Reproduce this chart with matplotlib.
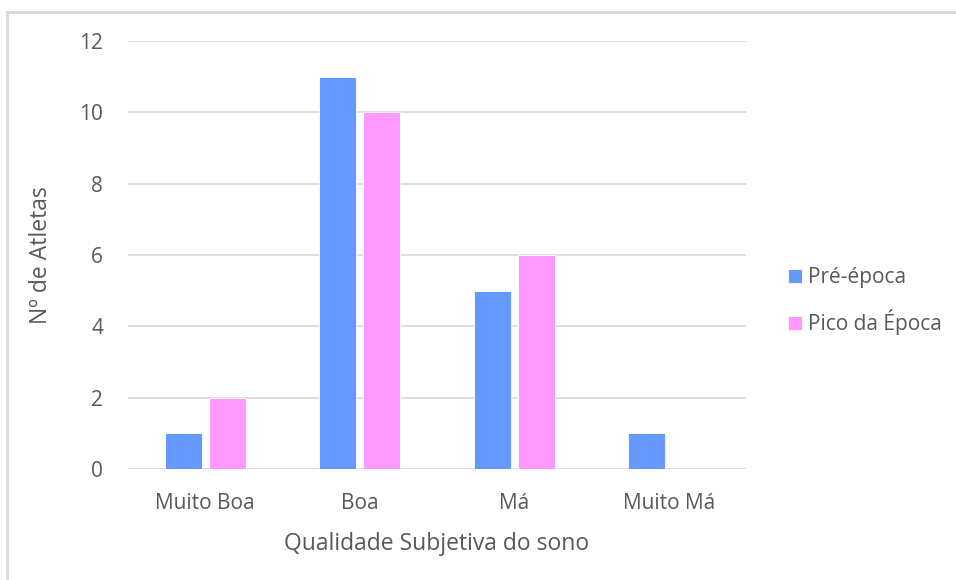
import matplotlib.pyplot as plt
import numpy as np

categorias = ['Muito Boa', 'Boa', 'Má', 'Muito Má']
pre_epoca = [1, 11, 5, 1]
pico_epoca = [2, 10, 6, 0]

plt.rcParams['font.family'] = ['Open Sans', 'DejaVu Sans']
cor_texto = '#595959'

fig = plt.figure(figsize=(9.56, 5.8), dpi=100)
ax = fig.add_axes([0.1339, 0.1914, 0.6464, 0.7379])

x = np.arange(len(categorias))
largura = 0.24
desvio = 0.142

ax.bar(x - desvio, pre_epoca, largura, color='#6699FF', edgecolor='white',
       linewidth=0.6, label='Pré-época', zorder=3)
ax.bar(x + desvio, pico_epoca, largura, color='#FF99FF', edgecolor='white',
       linewidth=0.6, label='Pico da Época', zorder=3)

ax.set_xlim(-0.5, 3.5)
ax.set_ylim(0, 12)
ax.set_yticks(range(0, 13, 2))
ax.set_xticks(x)
ax.set_xticklabels(categorias)

ax.grid(axis='y', color='#D9D9D9', linewidth=1.2, zorder=0)
for s in ax.spines.values():
    s.set_visible(False)
ax.tick_params(length=0, labelsize=15, colors=cor_texto)
ax.tick_params(axis='x', pad=17)
ax.tick_params(axis='y', pad=18)

ax.set_xlabel('Qualidade Subjetiva do sono', fontsize=16.5, color=cor_texto, labelpad=13)
ax.set_ylabel('Nº de Atletas', fontsize=16.5, color=cor_texto, labelpad=19)

leg = ax.legend(loc='center left', bbox_to_anchor=(1.037, 0.392), frameon=False,
                fontsize=15, labelcolor=cor_texto, handlelength=0.7,
                handleheight=0.7, handletextpad=0.3, labelspacing=1.0)

# moldura do gráfico (só esquerda e topo visíveis)
fig.patches.append(plt.Rectangle((7 / 956, -0.1), 1.2, 1 - 12 / 580 + 0.1,
                                 transform=fig.transFigure, fill=False,
                                 edgecolor='#D9D9D9', linewidth=2))

fig.savefig('out.png', dpi=100)
